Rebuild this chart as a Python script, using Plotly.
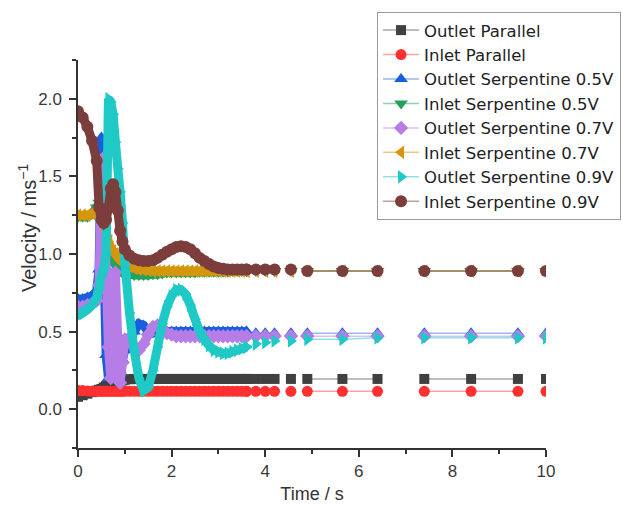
import plotly.graph_objects as go

# Time (s) of each recorded sample
TIME = [0.0, 0.1, 0.2, 0.3, 0.4, 0.45, 0.5, 0.55, 0.6, 0.65, 0.7, 0.75, 0.8, 0.85, 0.9, 0.95, 1.0,
        1.1, 1.2, 1.3, 1.4, 1.5, 1.6, 1.7, 1.8, 1.9, 2.0, 2.1, 2.2, 2.3, 2.4, 2.5, 2.6, 2.7, 2.8, 2.9,
        3.0, 3.1, 3.2, 3.3, 3.4, 3.5, 3.6, 3.8, 4.0, 4.2, 4.55, 4.9, 5.65, 6.4, 7.4, 8.4, 9.4, 10.0]

# Series break (missing data) after these times
BREAK_AFTER = [4.2, 4.55, 6.4, 9.4]
DENSE_END = 3.6

OUTLET_PARALLEL = [0.08, 0.09, 0.10, 0.11, 0.12, 0.125, 0.13, 0.14, 0.15, 0.155, 0.16, 0.165, 0.17, 0.175, 0.18, 0.185, 0.19,
                   0.193, 0.195, 0.195, 0.195, 0.195, 0.195, 0.195, 0.195, 0.195, 0.195, 0.195, 0.195, 0.195, 0.195, 0.195, 0.195, 0.195, 0.195, 0.195,
                   0.195, 0.195, 0.195, 0.195, 0.195, 0.195, 0.195, 0.195, 0.195, 0.195, 0.195, 0.195, 0.195, 0.195, 0.195, 0.195, 0.195, 0.195]
INLET_PARALLEL = [0.12, 0.12, 0.118, 0.115, 0.115, 0.115, 0.115, 0.115, 0.115, 0.115, 0.115, 0.115, 0.115, 0.115, 0.115, 0.115, 0.115,
                  0.115, 0.115, 0.115, 0.115, 0.115, 0.115, 0.115, 0.115, 0.115, 0.115, 0.115, 0.115, 0.115, 0.115, 0.115, 0.115, 0.115, 0.115, 0.115,
                  0.115, 0.115, 0.115, 0.115, 0.115, 0.115, 0.115, 0.115, 0.115, 0.115, 0.115, 0.115, 0.115, 0.115, 0.115, 0.115, 0.115, 0.115]
OUTLET_SERP_05 = [0.71, 0.71, 0.72, 0.73, 0.76, 0.9, 1.75, 1.0, 0.35, 0.2, 0.5, 0.78, 0.5, 0.2, 0.25, 0.32, 0.38,
                  0.44, 0.5, 0.55, 0.54, 0.5, 0.49, 0.5, 0.5, 0.5, 0.5, 0.5, 0.5, 0.5, 0.5, 0.5, 0.5, 0.5, 0.5, 0.5,
                  0.5, 0.5, 0.5, 0.5, 0.5, 0.5, 0.5, 0.49, 0.49, 0.49, 0.49, 0.49, 0.49, 0.49, 0.49, 0.49, 0.49, 0.49]
INLET_SERP_05 = [1.24, 1.24, 1.24, 1.26, 1.3, 1.33, 1.28, 1.2, 1.1, 1.02, 0.98, 0.95, 0.93, 0.91, 0.89, 0.88, 0.87,
                 0.87, 0.865, 0.865, 0.865, 0.865, 0.87, 0.87, 0.875, 0.88, 0.88, 0.88, 0.88, 0.88, 0.88, 0.88, 0.885, 0.885, 0.885, 0.885,
                 0.885, 0.885, 0.885, 0.89, 0.89, 0.89, 0.89, 0.89, 0.89, 0.89, 0.89, 0.89, 0.89, 0.89, 0.89, 0.89, 0.89, 0.89]
OUTLET_SERP_07 = [0.66, 0.66, 0.67, 0.68, 0.7, 0.8, 1.55, 1.62, 0.9, 0.4, 0.2, 0.45, 0.88, 0.45, 0.17, 0.3, 0.45,
                  0.46, 0.4, 0.38, 0.42, 0.48, 0.53, 0.54, 0.51, 0.49, 0.48, 0.47, 0.47, 0.47, 0.47, 0.47, 0.47, 0.47, 0.47, 0.47,
                  0.47, 0.47, 0.47, 0.47, 0.47, 0.47, 0.47, 0.47, 0.47, 0.47, 0.47, 0.47, 0.47, 0.47, 0.47, 0.47, 0.47, 0.47]
INLET_SERP_07 = [1.25, 1.25, 1.25, 1.26, 1.28, 1.31, 1.3, 1.25, 1.15, 1.08, 1.04, 1.02, 1.0, 0.98, 0.96, 0.95, 0.94,
                 0.92, 0.91, 0.9, 0.9, 0.895, 0.89, 0.89, 0.89, 0.89, 0.89, 0.89, 0.89, 0.89, 0.89, 0.89, 0.89, 0.89, 0.89, 0.89,
                 0.89, 0.89, 0.89, 0.89, 0.89, 0.89, 0.89, 0.89, 0.89, 0.89, 0.89, 0.89, 0.89, 0.89, 0.89, 0.89, 0.89, 0.89]
OUTLET_SERP_09 = [0.6, 0.62, 0.64, 0.67, 0.72, 0.78, 0.86, 0.9, 1.0, 2.0, 1.98, 1.9, 1.72, 1.55, 1.4, 1.2, 0.95,
                  0.62, 0.38, 0.2, 0.12, 0.14, 0.25, 0.4, 0.55, 0.66, 0.73, 0.77, 0.77, 0.74, 0.67, 0.58, 0.5, 0.45, 0.41, 0.38,
                  0.37, 0.36, 0.36, 0.37, 0.38, 0.39, 0.4, 0.42, 0.43, 0.44, 0.44, 0.45, 0.45, 0.46, 0.46, 0.46, 0.46, 0.46]
INLET_SERP_09 = [1.92, 1.88, 1.82, 1.73, 1.6, 1.3, 1.22, 1.2, 1.22, 1.3, 1.42, 1.45, 1.4, 1.28, 1.15, 1.08, 1.03,
                 0.99, 0.97, 0.96, 0.955, 0.955, 0.96, 0.975, 0.995, 1.015, 1.03, 1.045, 1.05, 1.045, 1.03, 1.005, 0.975, 0.955, 0.935, 0.92,
                 0.91, 0.905, 0.9, 0.9, 0.9, 0.9, 0.9, 0.9, 0.9, 0.9, 0.9, 0.89, 0.89, 0.89, 0.89, 0.89, 0.89, 0.89]

SERIES_NAMES = ["Outlet Parallel", "Inlet Parallel", "Outlet Serpentine 0.5V", "Inlet Serpentine 0.5V",
                "Outlet Serpentine 0.7V", "Inlet Serpentine 0.7V", "Outlet Serpentine 0.9V", "Inlet Serpentine 0.9V"]
SERIES_VALUES = [OUTLET_PARALLEL, INLET_PARALLEL, OUTLET_SERP_05, INLET_SERP_05,
                 OUTLET_SERP_07, INLET_SERP_07, OUTLET_SERP_09, INLET_SERP_09]

COLORS = ["#404040", "#ff3030", "#1a5ee0", "#23a25e", "#b77de6", "#d4960c", "#1ec9c6", "#7c3d3d"]
LINE_COLORS = ["rgba(64,64,64,0.45)", "rgba(255,48,48,0.45)", "rgba(26,94,224,0.45)", "rgba(35,162,94,0.5)",
               "rgba(183,125,230,0.5)", "rgba(212,150,12,0.5)", "rgba(30,201,198,0.5)", "rgba(124,61,61,0.5)"]
SYMBOLS = ["square", "circle", "triangle-up", "triangle-down", "diamond", "triangle-left", "triangle-right", "circle"]
SIZES = [10, 11, 12, 12, 11, 12, 12, 12]

fig = go.Figure()

for name, vals, col, lcol, sym, sz in zip(SERIES_NAMES, SERIES_VALUES, COLORS, LINE_COLORS, SYMBOLS, SIZES):
    dx = [t for t in TIME if t <= DENSE_END]
    dy = [v for t, v in zip(TIME, vals) if t <= DENSE_END]
    fig.add_trace(go.Scatter(x=dx, y=dy, mode="lines+markers", showlegend=False, legendgroup=name,
                             line=dict(color=col, width=9, simplify=False),
                             marker=dict(symbol=sym, size=sz, color=col, line=dict(width=0)),
                             hoverinfo="skip"))
    sx, sy = [], []
    for t, v in zip(TIME, vals):
        if t < DENSE_END:
            continue
        sx.append(t)
        sy.append(v)
        if t in BREAK_AFTER:
            sx.append(None)
            sy.append(None)
    fig.add_trace(go.Scatter(x=sx, y=sy, mode="lines+markers", name=name, legendgroup=name,
                             line=dict(color=lcol, width=1.5),
                             marker=dict(symbol=sym, size=sz, color=col, line=dict(width=0))))

axis_common = dict(showline=True, linecolor="#333333", linewidth=1.5, ticks="outside", ticklen=7,
                   tickwidth=1.5, tickcolor="#333333", showgrid=False, zeroline=False,
                   tickfont=dict(family="Liberation Sans, Arial", size=17, color="#3a3a3a"))

fig.update_xaxes(range=[0, 10], tickvals=[0, 2, 4, 6, 8, 10],
                 minor=dict(dtick=1, ticklen=4, tickwidth=1.5, tickcolor="#333333", ticks="outside"),
                 title=dict(text="Time / s", font=dict(family="Liberation Sans, Arial", size=18, color="#333333"),
                            standoff=7),
                 **axis_common)
fig.update_yaxes(range=[-0.25, 2.25], tickvals=[0, 0.5, 1.0, 1.5, 2.0], tickformat=".1f",
                 ticklabelstandoff=4,
                 minor=dict(tick0=-0.25, dtick=0.25, ticklen=4, tickwidth=1.5, tickcolor="#333333", ticks="outside"),
                 **axis_common)

fig.add_annotation(text="Velocity / ms<sup>−1</sup>", textangle=-90, xref="paper", yref="paper",
                   x=-0.109, y=0.567, xanchor="center", yanchor="middle", showarrow=False,
                   font=dict(family="Liberation Sans, Arial", size=20, color="#333333"))

fig.update_layout(
    width=622, height=507,
    margin=dict(l=78, r=76, t=60, b=59, autoexpand=False),
    paper_bgcolor="white", plot_bgcolor="white",
    legend=dict(x=0.639, y=1.124, xanchor="left", yanchor="top",
                bgcolor="white", bordercolor="#9a9a9a", borderwidth=1, itemwidth=36,
                font=dict(family="DejaVu Sans", size=16.5, color="#222222"),
                tracegroupgap=0),
    showlegend=True,
)

fig.write_html("out.html")
